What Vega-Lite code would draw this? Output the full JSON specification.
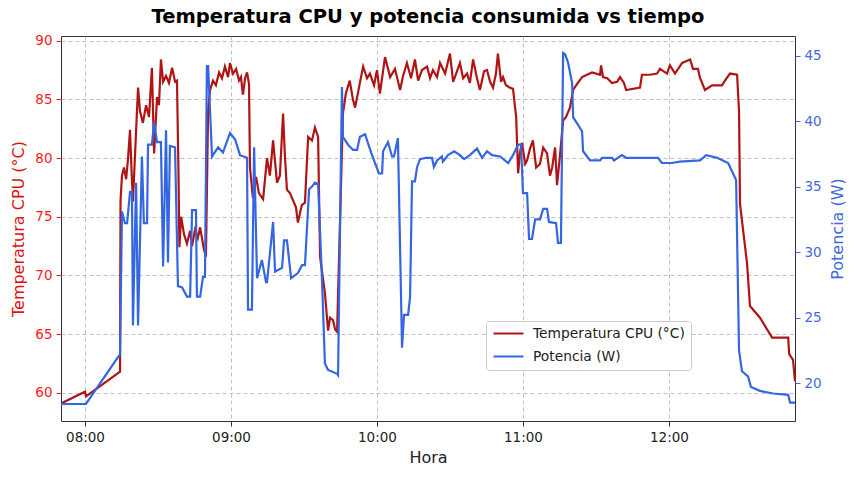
{
  "$schema": "https://vega.github.io/schema/vega-lite/v6.json",
  "description": "Temperatura CPU y potencia consumida vs tiempo",
  "width": 734,
  "height": 385,
  "autosize": {"type": "none"},
  "padding": {"left": 61, "top": 36, "right": 58, "bottom": 59},
  "background": "white",
  "title": {
    "text": "Temperatura CPU y potencia consumida vs tiempo",
    "font": "DejaVu Sans",
    "fontSize": 19.5,
    "fontWeight": "bold",
    "color": "black",
    "offset": 6
  },
  "config": {
    "font": "DejaVu Sans",
    "view": {"stroke": "#333333", "strokeWidth": 1}
  },
  "data": {
    "values": [
      {"serie": "T", "hora": "2024-01-01T07:50:08", "valor": 59.1},
      {"serie": "T", "hora": "2024-01-01T08:00:00", "valor": 60.1},
      {"serie": "T", "hora": "2024-01-01T08:00:24", "valor": 59.7},
      {"serie": "T", "hora": "2024-01-01T08:14:24", "valor": 61.8},
      {"serie": "T", "hora": "2024-01-01T08:14:36", "valor": 76.4},
      {"serie": "T", "hora": "2024-01-01T08:15:12", "valor": 78.5},
      {"serie": "T", "hora": "2024-01-01T08:16:00", "valor": 79.2},
      {"serie": "T", "hora": "2024-01-01T08:16:54", "valor": 78.2},
      {"serie": "T", "hora": "2024-01-01T08:17:42", "valor": 80.0},
      {"serie": "T", "hora": "2024-01-01T08:18:30", "valor": 82.4},
      {"serie": "T", "hora": "2024-01-01T08:19:06", "valor": 79.0},
      {"serie": "T", "hora": "2024-01-01T08:19:42", "valor": 76.3},
      {"serie": "T", "hora": "2024-01-01T08:20:36", "valor": 80.5},
      {"serie": "T", "hora": "2024-01-01T08:21:48", "valor": 86.0},
      {"serie": "T", "hora": "2024-01-01T08:22:36", "valor": 84.0},
      {"serie": "T", "hora": "2024-01-01T08:23:48", "valor": 83.0},
      {"serie": "T", "hora": "2024-01-01T08:25:06", "valor": 84.5},
      {"serie": "T", "hora": "2024-01-01T08:26:18", "valor": 83.5},
      {"serie": "T", "hora": "2024-01-01T08:27:30", "valor": 87.7},
      {"serie": "T", "hora": "2024-01-01T08:28:24", "valor": 80.4},
      {"serie": "T", "hora": "2024-01-01T08:29:36", "valor": 85.2},
      {"serie": "T", "hora": "2024-01-01T08:30:24", "valor": 84.5},
      {"serie": "T", "hora": "2024-01-01T08:31:12", "valor": 88.4},
      {"serie": "T", "hora": "2024-01-01T08:32:06", "valor": 86.5},
      {"serie": "T", "hora": "2024-01-01T08:33:18", "valor": 87.0},
      {"serie": "T", "hora": "2024-01-01T08:34:30", "valor": 86.4},
      {"serie": "T", "hora": "2024-01-01T08:35:48", "valor": 87.7},
      {"serie": "T", "hora": "2024-01-01T08:37:00", "valor": 86.5},
      {"serie": "T", "hora": "2024-01-01T08:37:48", "valor": 86.6},
      {"serie": "T", "hora": "2024-01-01T08:38:24", "valor": 79.0},
      {"serie": "T", "hora": "2024-01-01T08:38:48", "valor": 72.4},
      {"serie": "T", "hora": "2024-01-01T08:39:30", "valor": 75.0},
      {"serie": "T", "hora": "2024-01-01T08:40:42", "valor": 73.5},
      {"serie": "T", "hora": "2024-01-01T08:41:54", "valor": 72.7},
      {"serie": "T", "hora": "2024-01-01T08:43:12", "valor": 73.8},
      {"serie": "T", "hora": "2024-01-01T08:44:00", "valor": 72.5},
      {"serie": "T", "hora": "2024-01-01T08:45:12", "valor": 73.9},
      {"serie": "T", "hora": "2024-01-01T08:46:24", "valor": 73.2},
      {"serie": "T", "hora": "2024-01-01T08:47:18", "valor": 74.1},
      {"serie": "T", "hora": "2024-01-01T08:48:54", "valor": 72.2},
      {"serie": "T", "hora": "2024-01-01T08:49:42", "valor": 71.6},
      {"serie": "T", "hora": "2024-01-01T08:50:36", "valor": 84.1},
      {"serie": "T", "hora": "2024-01-01T08:51:24", "valor": 85.8},
      {"serie": "T", "hora": "2024-01-01T08:52:36", "valor": 86.6},
      {"serie": "T", "hora": "2024-01-01T08:53:48", "valor": 86.2},
      {"serie": "T", "hora": "2024-01-01T08:55:06", "valor": 87.3},
      {"serie": "T", "hora": "2024-01-01T08:56:18", "valor": 86.8},
      {"serie": "T", "hora": "2024-01-01T08:57:30", "valor": 87.8},
      {"serie": "T", "hora": "2024-01-01T08:58:48", "valor": 86.9},
      {"serie": "T", "hora": "2024-01-01T08:59:36", "valor": 88.1},
      {"serie": "T", "hora": "2024-01-01T09:00:48", "valor": 87.2},
      {"serie": "T", "hora": "2024-01-01T09:02:06", "valor": 87.6},
      {"serie": "T", "hora": "2024-01-01T09:03:18", "valor": 86.6},
      {"serie": "T", "hora": "2024-01-01T09:04:06", "valor": 86.9},
      {"serie": "T", "hora": "2024-01-01T09:04:54", "valor": 85.4},
      {"serie": "T", "hora": "2024-01-01T09:05:48", "valor": 86.8},
      {"serie": "T", "hora": "2024-01-01T09:06:36", "valor": 87.3},
      {"serie": "T", "hora": "2024-01-01T09:07:24", "valor": 86.3},
      {"serie": "T", "hora": "2024-01-01T09:07:48", "valor": 79.2},
      {"serie": "T", "hora": "2024-01-01T09:09:00", "valor": 76.6},
      {"serie": "T", "hora": "2024-01-01T09:10:18", "valor": 78.4},
      {"serie": "T", "hora": "2024-01-01T09:11:30", "valor": 77.0},
      {"serie": "T", "hora": "2024-01-01T09:13:12", "valor": 76.5},
      {"serie": "T", "hora": "2024-01-01T09:14:48", "valor": 80.0},
      {"serie": "T", "hora": "2024-01-01T09:16:00", "valor": 78.5},
      {"serie": "T", "hora": "2024-01-01T09:17:18", "valor": 81.5},
      {"serie": "T", "hora": "2024-01-01T09:18:54", "valor": 77.9},
      {"serie": "T", "hora": "2024-01-01T09:20:06", "valor": 78.5},
      {"serie": "T", "hora": "2024-01-01T09:21:24", "valor": 83.8},
      {"serie": "T", "hora": "2024-01-01T09:22:12", "valor": 80.0},
      {"serie": "T", "hora": "2024-01-01T09:23:00", "valor": 77.3},
      {"serie": "T", "hora": "2024-01-01T09:24:18", "valor": 77.0},
      {"serie": "T", "hora": "2024-01-01T09:25:30", "valor": 76.4},
      {"serie": "T", "hora": "2024-01-01T09:26:42", "valor": 75.8},
      {"serie": "T", "hora": "2024-01-01T09:27:30", "valor": 74.5},
      {"serie": "T", "hora": "2024-01-01T09:29:06", "valor": 76.0},
      {"serie": "T", "hora": "2024-01-01T09:30:24", "valor": 76.2},
      {"serie": "T", "hora": "2024-01-01T09:31:42", "valor": 81.8},
      {"serie": "T", "hora": "2024-01-01T09:33:18", "valor": 81.5},
      {"serie": "T", "hora": "2024-01-01T09:34:30", "valor": 82.6},
      {"serie": "T", "hora": "2024-01-01T09:35:48", "valor": 81.8},
      {"serie": "T", "hora": "2024-01-01T09:36:36", "valor": 71.6},
      {"serie": "T", "hora": "2024-01-01T09:38:36", "valor": 68.5},
      {"serie": "T", "hora": "2024-01-01T09:39:54", "valor": 65.3},
      {"serie": "T", "hora": "2024-01-01T09:40:42", "valor": 66.4},
      {"serie": "T", "hora": "2024-01-01T09:41:54", "valor": 66.2},
      {"serie": "T", "hora": "2024-01-01T09:42:48", "valor": 65.4},
      {"serie": "T", "hora": "2024-01-01T09:43:36", "valor": 65.2},
      {"serie": "T", "hora": "2024-01-01T09:46:00", "valor": 83.8},
      {"serie": "T", "hora": "2024-01-01T09:47:12", "valor": 85.5},
      {"serie": "T", "hora": "2024-01-01T09:48:48", "valor": 86.6},
      {"serie": "T", "hora": "2024-01-01T09:50:06", "valor": 85.0},
      {"serie": "T", "hora": "2024-01-01T09:51:00", "valor": 84.3},
      {"serie": "T", "hora": "2024-01-01T09:52:36", "valor": 86.0},
      {"serie": "T", "hora": "2024-01-01T09:54:18", "valor": 87.8},
      {"serie": "T", "hora": "2024-01-01T09:55:54", "valor": 86.8},
      {"serie": "T", "hora": "2024-01-01T09:57:06", "valor": 87.2},
      {"serie": "T", "hora": "2024-01-01T09:58:48", "valor": 86.2},
      {"serie": "T", "hora": "2024-01-01T10:00:00", "valor": 87.5},
      {"serie": "T", "hora": "2024-01-01T10:01:12", "valor": 85.5},
      {"serie": "T", "hora": "2024-01-01T10:03:18", "valor": 88.6},
      {"serie": "T", "hora": "2024-01-01T10:05:24", "valor": 86.9},
      {"serie": "T", "hora": "2024-01-01T10:07:24", "valor": 87.6},
      {"serie": "T", "hora": "2024-01-01T10:09:30", "valor": 85.8},
      {"serie": "T", "hora": "2024-01-01T10:10:42", "valor": 87.0},
      {"serie": "T", "hora": "2024-01-01T10:12:18", "valor": 88.1},
      {"serie": "T", "hora": "2024-01-01T10:14:00", "valor": 86.8},
      {"serie": "T", "hora": "2024-01-01T10:15:36", "valor": 88.4},
      {"serie": "T", "hora": "2024-01-01T10:16:54", "valor": 86.6},
      {"serie": "T", "hora": "2024-01-01T10:18:30", "valor": 87.5},
      {"serie": "T", "hora": "2024-01-01T10:20:36", "valor": 87.8},
      {"serie": "T", "hora": "2024-01-01T10:21:48", "valor": 86.8},
      {"serie": "T", "hora": "2024-01-01T10:23:00", "valor": 87.5},
      {"serie": "T", "hora": "2024-01-01T10:24:42", "valor": 86.9},
      {"serie": "T", "hora": "2024-01-01T10:25:54", "valor": 88.1},
      {"serie": "T", "hora": "2024-01-01T10:28:00", "valor": 87.2},
      {"serie": "T", "hora": "2024-01-01T10:30:00", "valor": 88.9},
      {"serie": "T", "hora": "2024-01-01T10:31:18", "valor": 86.5},
      {"serie": "T", "hora": "2024-01-01T10:32:54", "valor": 87.4},
      {"serie": "T", "hora": "2024-01-01T10:34:06", "valor": 88.1},
      {"serie": "T", "hora": "2024-01-01T10:35:24", "valor": 86.8},
      {"serie": "T", "hora": "2024-01-01T10:37:00", "valor": 87.2},
      {"serie": "T", "hora": "2024-01-01T10:38:12", "valor": 86.4},
      {"serie": "T", "hora": "2024-01-01T10:39:30", "valor": 88.4},
      {"serie": "T", "hora": "2024-01-01T10:41:06", "valor": 86.8},
      {"serie": "T", "hora": "2024-01-01T10:42:18", "valor": 85.8},
      {"serie": "T", "hora": "2024-01-01T10:44:00", "valor": 87.4},
      {"serie": "T", "hora": "2024-01-01T10:45:12", "valor": 87.5},
      {"serie": "T", "hora": "2024-01-01T10:46:30", "valor": 86.5},
      {"serie": "T", "hora": "2024-01-01T10:47:42", "valor": 86.0},
      {"serie": "T", "hora": "2024-01-01T10:48:54", "valor": 87.2},
      {"serie": "T", "hora": "2024-01-01T10:49:42", "valor": 88.9},
      {"serie": "T", "hora": "2024-01-01T10:51:00", "valor": 86.5},
      {"serie": "T", "hora": "2024-01-01T10:51:48", "valor": 86.9},
      {"serie": "T", "hora": "2024-01-01T10:53:00", "valor": 86.2},
      {"serie": "T", "hora": "2024-01-01T10:54:42", "valor": 86.0},
      {"serie": "T", "hora": "2024-01-01T10:55:54", "valor": 85.9},
      {"serie": "T", "hora": "2024-01-01T10:57:12", "valor": 83.5},
      {"serie": "T", "hora": "2024-01-01T10:58:00", "valor": 78.7},
      {"serie": "T", "hora": "2024-01-01T10:58:48", "valor": 80.5},
      {"serie": "T", "hora": "2024-01-01T10:59:36", "valor": 81.3},
      {"serie": "T", "hora": "2024-01-01T11:00:54", "valor": 79.5},
      {"serie": "T", "hora": "2024-01-01T11:01:42", "valor": 79.8},
      {"serie": "T", "hora": "2024-01-01T11:02:54", "valor": 80.8},
      {"serie": "T", "hora": "2024-01-01T11:04:06", "valor": 81.5},
      {"serie": "T", "hora": "2024-01-01T11:05:24", "valor": 79.2},
      {"serie": "T", "hora": "2024-01-01T11:07:00", "valor": 79.5},
      {"serie": "T", "hora": "2024-01-01T11:08:18", "valor": 80.9},
      {"serie": "T", "hora": "2024-01-01T11:09:54", "valor": 80.4},
      {"serie": "T", "hora": "2024-01-01T11:11:06", "valor": 78.5},
      {"serie": "T", "hora": "2024-01-01T11:12:00", "valor": 79.2},
      {"serie": "T", "hora": "2024-01-01T11:13:12", "valor": 80.9},
      {"serie": "T", "hora": "2024-01-01T11:14:00", "valor": 77.7},
      {"serie": "T", "hora": "2024-01-01T11:15:12", "valor": 80.2},
      {"serie": "T", "hora": "2024-01-01T11:16:30", "valor": 83.2},
      {"serie": "T", "hora": "2024-01-01T11:17:42", "valor": 83.5},
      {"serie": "T", "hora": "2024-01-01T11:19:18", "valor": 84.3},
      {"serie": "T", "hora": "2024-01-01T11:20:36", "valor": 85.8},
      {"serie": "T", "hora": "2024-01-01T11:22:12", "valor": 86.3},
      {"serie": "T", "hora": "2024-01-01T11:24:18", "valor": 86.9},
      {"serie": "T", "hora": "2024-01-01T11:26:18", "valor": 87.1},
      {"serie": "T", "hora": "2024-01-01T11:28:24", "valor": 87.3},
      {"serie": "T", "hora": "2024-01-01T11:31:42", "valor": 87.1},
      {"serie": "T", "hora": "2024-01-01T11:32:06", "valor": 87.9},
      {"serie": "T", "hora": "2024-01-01T11:32:54", "valor": 86.9},
      {"serie": "T", "hora": "2024-01-01T11:34:36", "valor": 86.8},
      {"serie": "T", "hora": "2024-01-01T11:36:36", "valor": 86.4},
      {"serie": "T", "hora": "2024-01-01T11:38:42", "valor": 86.5},
      {"serie": "T", "hora": "2024-01-01T11:39:54", "valor": 86.9},
      {"serie": "T", "hora": "2024-01-01T11:41:30", "valor": 86.4},
      {"serie": "T", "hora": "2024-01-01T11:42:24", "valor": 85.8},
      {"serie": "T", "hora": "2024-01-01T11:48:06", "valor": 86.0},
      {"serie": "T", "hora": "2024-01-01T11:48:54", "valor": 87.1},
      {"serie": "T", "hora": "2024-01-01T11:52:12", "valor": 87.1},
      {"serie": "T", "hora": "2024-01-01T11:55:06", "valor": 87.2},
      {"serie": "T", "hora": "2024-01-01T11:56:18", "valor": 87.6},
      {"serie": "T", "hora": "2024-01-01T11:59:12", "valor": 87.2},
      {"serie": "T", "hora": "2024-01-01T12:00:24", "valor": 87.9},
      {"serie": "T", "hora": "2024-01-01T12:02:30", "valor": 87.2},
      {"serie": "T", "hora": "2024-01-01T12:05:24", "valor": 88.1},
      {"serie": "T", "hora": "2024-01-01T12:08:42", "valor": 88.4},
      {"serie": "T", "hora": "2024-01-01T12:09:54", "valor": 87.6},
      {"serie": "T", "hora": "2024-01-01T12:11:54", "valor": 87.6},
      {"serie": "T", "hora": "2024-01-01T12:12:48", "valor": 86.8},
      {"serie": "T", "hora": "2024-01-01T12:14:48", "valor": 85.8},
      {"serie": "T", "hora": "2024-01-01T12:17:42", "valor": 86.2},
      {"serie": "T", "hora": "2024-01-01T12:21:48", "valor": 86.2},
      {"serie": "T", "hora": "2024-01-01T12:23:00", "valor": 86.6},
      {"serie": "T", "hora": "2024-01-01T12:25:06", "valor": 87.2},
      {"serie": "T", "hora": "2024-01-01T12:28:00", "valor": 87.1},
      {"serie": "T", "hora": "2024-01-01T12:28:48", "valor": 84.0},
      {"serie": "T", "hora": "2024-01-01T12:29:12", "valor": 76.1},
      {"serie": "T", "hora": "2024-01-01T12:32:06", "valor": 71.0},
      {"serie": "T", "hora": "2024-01-01T12:33:18", "valor": 67.4},
      {"serie": "T", "hora": "2024-01-01T12:37:24", "valor": 66.4},
      {"serie": "T", "hora": "2024-01-01T12:42:24", "valor": 64.7},
      {"serie": "T", "hora": "2024-01-01T12:49:00", "valor": 64.7},
      {"serie": "T", "hora": "2024-01-01T12:49:24", "valor": 63.3},
      {"serie": "T", "hora": "2024-01-01T12:51:00", "valor": 62.8},
      {"serie": "T", "hora": "2024-01-01T12:51:48", "valor": 61.0},
      {"serie": "P", "hora": "2024-01-01T07:50:08", "valor": 18.4},
      {"serie": "P", "hora": "2024-01-01T08:00:24", "valor": 18.4},
      {"serie": "P", "hora": "2024-01-01T08:14:24", "valor": 22.2},
      {"serie": "P", "hora": "2024-01-01T08:15:12", "valor": 33.1},
      {"serie": "P", "hora": "2024-01-01T08:16:24", "valor": 32.2},
      {"serie": "P", "hora": "2024-01-01T08:17:18", "valor": 32.2},
      {"serie": "P", "hora": "2024-01-01T08:18:30", "valor": 34.6},
      {"serie": "P", "hora": "2024-01-01T08:19:18", "valor": 34.6},
      {"serie": "P", "hora": "2024-01-01T08:19:42", "valor": 24.4},
      {"serie": "P", "hora": "2024-01-01T08:21:00", "valor": 35.3},
      {"serie": "P", "hora": "2024-01-01T08:21:48", "valor": 24.4},
      {"serie": "P", "hora": "2024-01-01T08:23:24", "valor": 37.3},
      {"serie": "P", "hora": "2024-01-01T08:24:12", "valor": 32.2},
      {"serie": "P", "hora": "2024-01-01T08:25:30", "valor": 32.2},
      {"serie": "P", "hora": "2024-01-01T08:25:54", "valor": 38.2},
      {"serie": "P", "hora": "2024-01-01T08:27:30", "valor": 38.2},
      {"serie": "P", "hora": "2024-01-01T08:28:24", "valor": 39.9},
      {"serie": "P", "hora": "2024-01-01T08:29:36", "valor": 38.4},
      {"serie": "P", "hora": "2024-01-01T08:31:12", "valor": 38.4},
      {"serie": "P", "hora": "2024-01-01T08:32:06", "valor": 28.9},
      {"serie": "P", "hora": "2024-01-01T08:33:18", "valor": 39.3},
      {"serie": "P", "hora": "2024-01-01T08:34:06", "valor": 29.2},
      {"serie": "P", "hora": "2024-01-01T08:34:54", "valor": 38.1},
      {"serie": "P", "hora": "2024-01-01T08:37:00", "valor": 38.0},
      {"serie": "P", "hora": "2024-01-01T08:38:12", "valor": 27.4},
      {"serie": "P", "hora": "2024-01-01T08:39:54", "valor": 27.3},
      {"serie": "P", "hora": "2024-01-01T08:41:54", "valor": 26.6},
      {"serie": "P", "hora": "2024-01-01T08:43:12", "valor": 26.6},
      {"serie": "P", "hora": "2024-01-01T08:44:00", "valor": 33.2},
      {"serie": "P", "hora": "2024-01-01T08:45:36", "valor": 33.2},
      {"serie": "P", "hora": "2024-01-01T08:46:00", "valor": 26.6},
      {"serie": "P", "hora": "2024-01-01T08:47:18", "valor": 26.6},
      {"serie": "P", "hora": "2024-01-01T08:48:30", "valor": 28.1},
      {"serie": "P", "hora": "2024-01-01T08:49:18", "valor": 28.1},
      {"serie": "P", "hora": "2024-01-01T08:50:06", "valor": 44.2},
      {"serie": "P", "hora": "2024-01-01T08:50:36", "valor": 44.2},
      {"serie": "P", "hora": "2024-01-01T08:52:12", "valor": 37.3},
      {"serie": "P", "hora": "2024-01-01T08:54:42", "valor": 38.0},
      {"serie": "P", "hora": "2024-01-01T08:56:42", "valor": 37.6},
      {"serie": "P", "hora": "2024-01-01T08:59:36", "valor": 39.1},
      {"serie": "P", "hora": "2024-01-01T09:01:42", "valor": 38.6},
      {"serie": "P", "hora": "2024-01-01T09:03:42", "valor": 37.4},
      {"serie": "P", "hora": "2024-01-01T09:06:36", "valor": 37.2},
      {"serie": "P", "hora": "2024-01-01T09:07:00", "valor": 25.6},
      {"serie": "P", "hora": "2024-01-01T09:08:36", "valor": 25.6},
      {"serie": "P", "hora": "2024-01-01T09:09:30", "valor": 38.0},
      {"serie": "P", "hora": "2024-01-01T09:10:42", "valor": 28.0},
      {"serie": "P", "hora": "2024-01-01T09:12:42", "valor": 29.4},
      {"serie": "P", "hora": "2024-01-01T09:14:24", "valor": 27.7},
      {"serie": "P", "hora": "2024-01-01T09:14:48", "valor": 27.7},
      {"serie": "P", "hora": "2024-01-01T09:17:18", "valor": 32.3},
      {"serie": "P", "hora": "2024-01-01T09:18:06", "valor": 28.5},
      {"serie": "P", "hora": "2024-01-01T09:21:00", "valor": 28.8},
      {"serie": "P", "hora": "2024-01-01T09:21:48", "valor": 30.9},
      {"serie": "P", "hora": "2024-01-01T09:23:00", "valor": 30.9},
      {"serie": "P", "hora": "2024-01-01T09:24:42", "valor": 28.0},
      {"serie": "P", "hora": "2024-01-01T09:27:30", "valor": 28.4},
      {"serie": "P", "hora": "2024-01-01T09:29:12", "valor": 29.0},
      {"serie": "P", "hora": "2024-01-01T09:30:24", "valor": 29.0},
      {"serie": "P", "hora": "2024-01-01T09:32:06", "valor": 34.8},
      {"serie": "P", "hora": "2024-01-01T09:33:18", "valor": 35.0},
      {"serie": "P", "hora": "2024-01-01T09:34:30", "valor": 35.3},
      {"serie": "P", "hora": "2024-01-01T09:35:48", "valor": 35.2},
      {"serie": "P", "hora": "2024-01-01T09:37:24", "valor": 27.9},
      {"serie": "P", "hora": "2024-01-01T09:38:36", "valor": 21.5},
      {"serie": "P", "hora": "2024-01-01T09:39:54", "valor": 21.0},
      {"serie": "P", "hora": "2024-01-01T09:43:36", "valor": 20.7},
      {"serie": "P", "hora": "2024-01-01T09:44:00", "valor": 20.6},
      {"serie": "P", "hora": "2024-01-01T09:45:36", "valor": 42.6},
      {"serie": "P", "hora": "2024-01-01T09:46:00", "valor": 38.8},
      {"serie": "P", "hora": "2024-01-01T09:48:06", "valor": 38.2},
      {"serie": "P", "hora": "2024-01-01T09:50:12", "valor": 37.8},
      {"serie": "P", "hora": "2024-01-01T09:51:48", "valor": 37.8},
      {"serie": "P", "hora": "2024-01-01T09:53:00", "valor": 38.8},
      {"serie": "P", "hora": "2024-01-01T09:55:06", "valor": 39.0},
      {"serie": "P", "hora": "2024-01-01T09:57:36", "valor": 37.6},
      {"serie": "P", "hora": "2024-01-01T09:59:12", "valor": 36.8},
      {"serie": "P", "hora": "2024-01-01T10:00:48", "valor": 36.0},
      {"serie": "P", "hora": "2024-01-01T10:02:06", "valor": 36.0},
      {"serie": "P", "hora": "2024-01-01T10:02:30", "valor": 37.7},
      {"serie": "P", "hora": "2024-01-01T10:04:30", "valor": 38.4},
      {"serie": "P", "hora": "2024-01-01T10:06:12", "valor": 37.3},
      {"serie": "P", "hora": "2024-01-01T10:07:00", "valor": 37.3},
      {"serie": "P", "hora": "2024-01-01T10:08:36", "valor": 38.7},
      {"serie": "P", "hora": "2024-01-01T10:10:18", "valor": 22.7},
      {"serie": "P", "hora": "2024-01-01T10:11:06", "valor": 25.2},
      {"serie": "P", "hora": "2024-01-01T10:12:48", "valor": 25.2},
      {"serie": "P", "hora": "2024-01-01T10:13:36", "valor": 26.6},
      {"serie": "P", "hora": "2024-01-01T10:14:24", "valor": 35.4},
      {"serie": "P", "hora": "2024-01-01T10:15:36", "valor": 35.4},
      {"serie": "P", "hora": "2024-01-01T10:16:30", "valor": 36.5},
      {"serie": "P", "hora": "2024-01-01T10:17:42", "valor": 37.1},
      {"serie": "P", "hora": "2024-01-01T10:20:12", "valor": 37.2},
      {"serie": "P", "hora": "2024-01-01T10:22:36", "valor": 37.2},
      {"serie": "P", "hora": "2024-01-01T10:23:24", "valor": 36.5},
      {"serie": "P", "hora": "2024-01-01T10:24:42", "valor": 37.0},
      {"serie": "P", "hora": "2024-01-01T10:26:42", "valor": 37.3},
      {"serie": "P", "hora": "2024-01-01T10:27:06", "valor": 36.9},
      {"serie": "P", "hora": "2024-01-01T10:29:12", "valor": 37.4},
      {"serie": "P", "hora": "2024-01-01T10:31:42", "valor": 37.7},
      {"serie": "P", "hora": "2024-01-01T10:34:06", "valor": 37.4},
      {"serie": "P", "hora": "2024-01-01T10:35:48", "valor": 37.1},
      {"serie": "P", "hora": "2024-01-01T10:38:12", "valor": 37.4},
      {"serie": "P", "hora": "2024-01-01T10:41:06", "valor": 37.9},
      {"serie": "P", "hora": "2024-01-01T10:43:12", "valor": 37.2},
      {"serie": "P", "hora": "2024-01-01T10:45:12", "valor": 37.7},
      {"serie": "P", "hora": "2024-01-01T10:47:18", "valor": 37.4},
      {"serie": "P", "hora": "2024-01-01T10:50:36", "valor": 37.3},
      {"serie": "P", "hora": "2024-01-01T10:53:54", "valor": 36.8},
      {"serie": "P", "hora": "2024-01-01T10:55:54", "valor": 37.4},
      {"serie": "P", "hora": "2024-01-01T10:58:00", "valor": 38.2},
      {"serie": "P", "hora": "2024-01-01T10:59:12", "valor": 38.2},
      {"serie": "P", "hora": "2024-01-01T11:00:00", "valor": 34.5},
      {"serie": "P", "hora": "2024-01-01T11:01:42", "valor": 34.5},
      {"serie": "P", "hora": "2024-01-01T11:02:30", "valor": 31.0},
      {"serie": "P", "hora": "2024-01-01T11:03:42", "valor": 31.0},
      {"serie": "P", "hora": "2024-01-01T11:05:00", "valor": 32.5},
      {"serie": "P", "hora": "2024-01-01T11:07:00", "valor": 32.5},
      {"serie": "P", "hora": "2024-01-01T11:08:18", "valor": 33.3},
      {"serie": "P", "hora": "2024-01-01T11:09:54", "valor": 33.3},
      {"serie": "P", "hora": "2024-01-01T11:10:42", "valor": 32.3},
      {"serie": "P", "hora": "2024-01-01T11:13:36", "valor": 32.2},
      {"serie": "P", "hora": "2024-01-01T11:14:24", "valor": 30.7},
      {"serie": "P", "hora": "2024-01-01T11:15:36", "valor": 30.7},
      {"serie": "P", "hora": "2024-01-01T11:16:30", "valor": 45.2},
      {"serie": "P", "hora": "2024-01-01T11:17:18", "valor": 45.1},
      {"serie": "P", "hora": "2024-01-01T11:18:30", "valor": 44.5},
      {"serie": "P", "hora": "2024-01-01T11:20:12", "valor": 42.9},
      {"serie": "P", "hora": "2024-01-01T11:20:36", "valor": 40.3},
      {"serie": "P", "hora": "2024-01-01T11:22:42", "valor": 39.7},
      {"serie": "P", "hora": "2024-01-01T11:24:18", "valor": 39.2},
      {"serie": "P", "hora": "2024-01-01T11:24:42", "valor": 37.7},
      {"serie": "P", "hora": "2024-01-01T11:27:36", "valor": 37.0},
      {"serie": "P", "hora": "2024-01-01T11:31:42", "valor": 37.0},
      {"serie": "P", "hora": "2024-01-01T11:32:30", "valor": 37.2},
      {"serie": "P", "hora": "2024-01-01T11:36:36", "valor": 37.2},
      {"serie": "P", "hora": "2024-01-01T11:37:24", "valor": 37.0},
      {"serie": "P", "hora": "2024-01-01T11:40:42", "valor": 37.4},
      {"serie": "P", "hora": "2024-01-01T11:42:24", "valor": 37.2},
      {"serie": "P", "hora": "2024-01-01T11:48:06", "valor": 37.2},
      {"serie": "P", "hora": "2024-01-01T11:55:30", "valor": 37.2},
      {"serie": "P", "hora": "2024-01-01T11:57:06", "valor": 36.8},
      {"serie": "P", "hora": "2024-01-01T12:01:12", "valor": 36.8},
      {"serie": "P", "hora": "2024-01-01T12:04:30", "valor": 36.9},
      {"serie": "P", "hora": "2024-01-01T12:12:48", "valor": 37.0},
      {"serie": "P", "hora": "2024-01-01T12:15:18", "valor": 37.4},
      {"serie": "P", "hora": "2024-01-01T12:19:48", "valor": 37.2},
      {"serie": "P", "hora": "2024-01-01T12:24:18", "valor": 36.8},
      {"serie": "P", "hora": "2024-01-01T12:27:36", "valor": 35.5},
      {"serie": "P", "hora": "2024-01-01T12:28:48", "valor": 22.5},
      {"serie": "P", "hora": "2024-01-01T12:30:00", "valor": 20.9},
      {"serie": "P", "hora": "2024-01-01T12:32:30", "valor": 20.5},
      {"serie": "P", "hora": "2024-01-01T12:33:42", "valor": 19.7},
      {"serie": "P", "hora": "2024-01-01T12:37:24", "valor": 19.4},
      {"serie": "P", "hora": "2024-01-01T12:42:48", "valor": 19.2},
      {"serie": "P", "hora": "2024-01-01T12:49:00", "valor": 19.1},
      {"serie": "P", "hora": "2024-01-01T12:49:48", "valor": 18.5},
      {"serie": "P", "hora": "2024-01-01T12:51:48", "valor": 18.5}
    ]
  },
  "encoding": {
    "x": {
      "field": "hora",
      "type": "temporal",
      "scale": {"nice": false},
      "axis": {
        "title": "Hora",
        "format": "%H:%M",
        "values": [
          {"year": 2024, "month": 1, "date": 1, "hours": 8},
          {"year": 2024, "month": 1, "date": 1, "hours": 9},
          {"year": 2024, "month": 1, "date": 1, "hours": 10},
          {"year": 2024, "month": 1, "date": 1, "hours": 11},
          {"year": 2024, "month": 1, "date": 1, "hours": 12}
        ],
        "labelFontSize": 13.5,
        "labelColor": "#222222",
        "titleFontSize": 16,
        "titleFontWeight": "normal",
        "titleColor": "#222222",
        "labelPadding": 4,
        "titlePadding": 6,
        "tickSize": 5,
        "tickColor": "#333333",
        "domain": false,
        "grid": true,
        "gridColor": "#b0b0b0",
        "gridDash": [4, 3],
        "gridWidth": 0.8
      }
    }
  },
  "layer": [
    {
      "transform": [{"filter": "datum.serie === 'T'"}],
      "mark": {"type": "line", "strokeWidth": 2.2},
      "encoding": {
        "y": {
          "field": "valor",
          "type": "quantitative",
          "scale": {"domain": [57.6, 90.4], "nice": false, "zero": false},
          "axis": {
            "title": "Temperatura CPU (°C)",
            "values": [60, 65, 70, 75, 80, 85, 90],
            "labelFontSize": 13.5,
            "labelColor": "#ff1a1a",
            "titleFontSize": 16,
            "titleFontWeight": "normal",
            "titleColor": "#e01010",
            "labelPadding": 4,
            "titlePadding": 8,
            "tickSize": 5,
            "tickColor": "#ff1a1a",
            "domain": false,
            "grid": true,
            "gridColor": "#b0b0b0",
            "gridDash": [4, 3],
            "gridWidth": 0.8
          }
        },
        "color": {
          "datum": "Temperatura CPU (°C)",
          "scale": {
            "domain": ["Temperatura CPU (°C)", "Potencia (W)"],
            "range": ["#b11414", "#3466e3"]
          },
          "legend": {
            "title": "",
            "orient": "none",
            "legendX": 425,
            "legendY": 285,
            "symbolType": "stroke",
            "symbolSize": 900,
            "symbolStrokeWidth": 2.2,
            "clipHeight": 13,
            "labelFontSize": 13.8,
            "labelColor": "#222222",
            "labelOffset": 8,
            "rowPadding": 8,
            "padding": 6,
            "fillColor": "white",
            "strokeColor": "#cccccc",
            "cornerRadius": 3
          }
        }
      }
    },
    {
      "transform": [{"filter": "datum.serie === 'P'"}],
      "mark": {"type": "line", "strokeWidth": 2.2},
      "encoding": {
        "y": {
          "field": "valor",
          "type": "quantitative",
          "scale": {"domain": [17.1, 46.5], "nice": false, "zero": false},
          "axis": {
            "orient": "right",
            "title": "Potencia (W)",
            "titleAngle": 270,
            "titleBaseline": "top",
            "values": [20, 25, 30, 35, 40, 45],
            "labelFontSize": 13.5,
            "labelColor": "#4169e1",
            "titleFontSize": 16,
            "titleFontWeight": "normal",
            "titleColor": "#4169e1",
            "labelPadding": 4,
            "titlePadding": 8,
            "tickSize": 5,
            "tickColor": "#4169e1",
            "domain": false,
            "grid": false
          }
        },
        "color": {"datum": "Potencia (W)"}
      }
    }
  ],
  "resolve": {"scale": {"y": "independent"}}
}
